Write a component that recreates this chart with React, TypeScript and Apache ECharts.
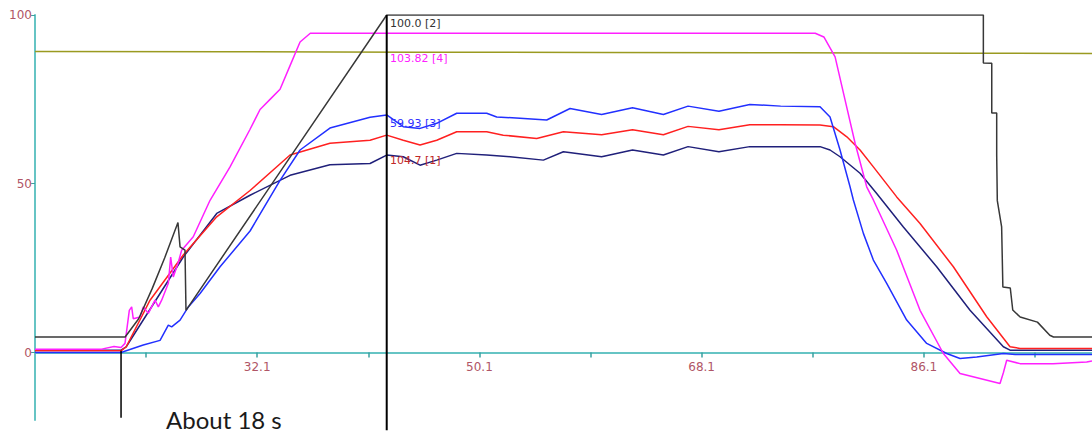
import React, { useEffect, useRef } from "react";
import * as echarts from "echarts";

// ---- data (x = seconds, y = %) ----
const xTickLabels = [32.1, 50.1, 68.1, 86.1];
const yTickValues = [0, 50, 100];

const oliveSeries: [number, number][] = [
  [14.1, 89.2], [30, 89.1], [45, 89.0], [60, 88.9], [75, 88.8], [90, 88.7], [99.72, 88.6],
];

const blackSeries: [number, number][] = [
  [14.1, 4.6], [21.4, 4.6], [22.5, 10], [23.6, 19], [24.6, 28], [25.68, 38.5], [25.85, 31.3],
  [26.25, 30.3], [26.33, 12.5], [42.59, 100], [90.92, 100], [90.92, 85.8], [91.6, 85.7],
  [91.6, 71], [92.0, 71], [92.0, 58.5], [92.05, 45], [92.4, 37.2], [92.5, 19.4], [93.1, 19.1],
  [93.3, 12.6], [93.9, 10.5], [95.3, 9.0], [96.3, 5.1], [96.6, 4.6], [99.72, 4.6],
];

const magentaSeries: [number, number][] = [
  [14.1, 1.0], [19.5, 1.0], [20.5, 1.8], [21.07, 1.5], [21.39, 2.7], [21.74, 12.5], [21.93, 13.5],
  [22.06, 10], [22.61, 10.5], [22.87, 13.5], [23.28, 11.6], [23.82, 15.5], [24.09, 13.5],
  [24.36, 15.5], [24.9, 20.5], [25.09, 28.3], [25.3, 22.4], [25.68, 26.4], [25.98, 30.3],
  [26.92, 34.3], [28.28, 45.1], [29.9, 55], [31.5, 66], [32.33, 72], [33.14, 75], [33.95, 78],
  [34.76, 85], [35.57, 92], [36.4, 94.6], [77.3, 94.6], [78.0, 93.5], [78.91, 87.6],
  [79.72, 74.8], [80.53, 62], [81.47, 49.1], [82.01, 45.2], [83.9, 30.3], [85.79, 12.5],
  [87.68, -0.3], [89.03, -6.2], [92.27, -9.2], [92.54, -6], [92.81, -2.3], [93.89, -3.3],
  [96.56, -3.3], [99.29, -2.8], [99.72, -2.5],
];

const blueSeries: [number, number][] = [
  [14.1, 0], [21.07, 0], [22.87, 2.2], [24.23, 3.6], [24.9, 8.1], [25.17, 7.6], [25.85, 9.6],
  [26.52, 13.5], [27.47, 17.5], [29.09, 25.4], [31.52, 36], [33.95, 51], [35.57, 60],
  [37.99, 66.5], [41.24, 69.7], [42.59, 70.4], [43.93, 66.9], [45.29, 66.4], [46.64, 67.9],
  [48.26, 70.9], [50.69, 70.9], [51.5, 69.8], [53.39, 69.4], [55.55, 68.9], [57.44, 72.3],
  [60.0, 70.5], [62.5, 72.5], [65.0, 70.5], [67.0, 73], [69.5, 71.5], [72.0, 73.5], [74.5, 73],
  [77.69, 72.8], [78.5, 69.8], [79.31, 60], [80.12, 49.1], [80.39, 45.2], [81.2, 35.3],
  [82.01, 27.4], [83.09, 20.5], [84.71, 9.6], [86.33, 2.7], [87.95, -0.3], [89.03, -1.8],
  [90.38, -1.3], [92.54, -0.3], [93.5, -0.6], [99.72, -0.6],
];

const redSeries: [number, number][] = [
  [14.1, 0.5], [21.07, 0.5], [21.49, 1.7], [23.42, 15.5], [26.11, 28.9], [28.82, 40.2],
  [31.52, 48], [34.76, 58.5], [37.99, 62], [41.24, 62.9], [42.59, 64.4], [43.93, 62.9],
  [45.29, 61.5], [46.64, 62.9], [48.26, 65.4], [50.69, 65.4], [52.03, 64.4], [54.74, 63.4],
  [56.9, 65.4], [60.0, 64.5], [62.5, 66], [65.0, 64.5], [67.0, 67], [69.5, 66], [72.0, 67.5],
  [74.5, 67.5], [77.69, 67.4], [78.77, 66.9], [79.86, 63.9], [80.93, 60], [82.01, 55],
  [83.9, 46.1], [85.79, 38.2], [88.49, 25.4], [91.19, 10.6], [93.08, 1.7], [93.89, 1.2],
  [99.72, 1.2],
];

const navySeries: [number, number][] = [
  [14.1, 0.7], [21.07, 0.7], [21.49, 1.7], [26.11, 28.3], [28.82, 41.2], [31.52, 46.6],
  [34.76, 52.5], [37.99, 55.6], [41.24, 56], [42.59, 58.5], [43.93, 58], [45.29, 55.5],
  [46.64, 57], [48.26, 59], [50.69, 58.5], [52.58, 58], [55.28, 57], [56.9, 59.5], [60.0, 58],
  [62.5, 60], [65.0, 58.5], [67.0, 61], [69.5, 59.5], [72.0, 61], [74.5, 61], [77.69, 61],
  [78.5, 60], [79.31, 58], [80.93, 53.1], [82.28, 47.1], [84.44, 37.2], [87.14, 25.4],
  [89.84, 12.5], [92.54, 1.7], [93.08, 0.7], [99.72, 0.7],
];

const cursorA: [number, number][] = [[21.07, 0.5], [21.07, -19.3]];
const cursorB: [number, number][] = [[42.59, 100], [42.59, -23]];

const readoutTexts = ["100.0 [2]", "103.82 [4]", "59.93 [3]", "104.7 [1]"];
const annotationText = "About 18 s";

const Y_MIN = -20;
const Y_MAX = 100;
const GRID_TOP = 15;
const GRID_BOTTOM = 16;
const CHART_H = 436;

export default function App() {
  const ref = useRef<HTMLDivElement>(null);
  useEffect(() => {
    if (!ref.current) return;
    const chart = echarts.init(ref.current, undefined, { renderer: "svg" });
    const teal = "#66c4c4";
    const labelColor = "#b05566";
    const plotH = CHART_H - GRID_TOP - GRID_BOTTOM;
    // distance from bottom of grid to the zero line
    const zeroOffset = (plotH * (0 - Y_MIN)) / (Y_MAX - Y_MIN);
    const line = (data: [number, number][], color: string, width = 1.5, z = 2) => ({
      type: "line",
      data,
      showSymbol: false,
      symbol: "none",
      lineStyle: { color, width },
      itemStyle: { color },
      z,
      animation: false,
    });
    chart.setOption({
      animation: false,
      backgroundColor: "#ffffff",
      grid: {
        left: 35,
        right: 0,
        top: GRID_TOP,
        bottom: GRID_BOTTOM,
        containLabel: false,
        outerBoundsMode: "none",
      },
      xAxis: {
        type: "value",
        position: "bottom",
        offset: -zeroOffset,
        min: 14.1,
        max: 99.72,
        interval: 9,
        axisLine: { onZero: false, lineStyle: { color: teal, width: 2 } },
        axisTick: { show: true, length: 5, lineStyle: { color: "#3aa0a0", width: 1.5 } },
        splitLine: { show: false },
        axisLabel: {
          color: labelColor,
          fontFamily: "DejaVu Sans",
          fontSize: 12,
          margin: 8,
          showMinLabel: false,
          showMaxLabel: false,
          formatter: (v: number) => {
            const r = Math.round(v * 10) / 10;
            return xTickLabels.includes(r) ? r.toFixed(1) : "";
          },
        },
      },
      yAxis: {
        type: "value",
        min: Y_MIN,
        max: Y_MAX,
        axisLine: { show: true, lineStyle: { color: teal, width: 2 } },
        axisTick: { show: true, length: 4, customValues: yTickValues, lineStyle: { color: "#3aa0a0" } },
        axisLabel: {
          customValues: yTickValues,
          color: labelColor,
          fontFamily: "DejaVu Sans",
          fontSize: 12,
          margin: 3,
        },
        splitLine: { show: false },
      },
      series: [
        line(oliveSeries, "#9a9a20", 1.5, 2),
        line(navySeries, "#20207a", 1.5, 3),
        line(redSeries, "#ff2020", 1.5, 4),
        line(blueSeries, "#2230ff", 1.5, 5),
        line(magentaSeries, "#ff20ff", 1.5, 6),
        line(blackSeries, "#383838", 1.5, 7),
        { ...line(cursorA, "#000000", 1.5, 8), clip: false },
        { ...line(cursorB, "#000000", 2, 8), clip: false },
      ],
      graphic: [
        { type: "text", left: 390, top: 18, z: 20, style: { text: readoutTexts[0], fill: "#333333", font: "11px DejaVu Sans" } },
        { type: "text", left: 390, top: 53, z: 20, style: { text: readoutTexts[1], fill: "#ff20ff", font: "11px DejaVu Sans" } },
        { type: "text", left: 390, top: 118, z: 20, style: { text: readoutTexts[2], fill: "#3030ff", font: "11px DejaVu Sans" } },
        { type: "text", left: 390, top: 155, z: 20, style: { text: readoutTexts[3], fill: "#c02828", font: "11px DejaVu Sans" } },
        { type: "text", left: 166, top: 407, z: 20, style: { text: annotationText, fill: "#1a1a1a", font: "24px Lato" } },
      ],
    });
    return () => chart.dispose();
  }, []);
  return (
    <div
      ref={ref}
      style={{ position: "fixed", left: 0, top: 0, width: 1092, height: 436 }}
    />
  );
}
